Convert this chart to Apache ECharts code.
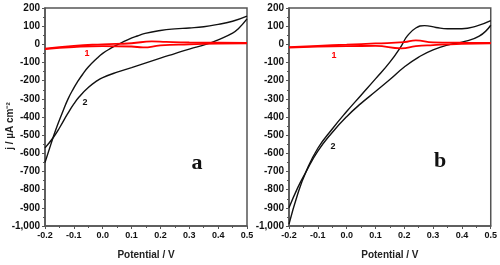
<!DOCTYPE html>
<html>
<head>
<meta charset="utf-8">
<script src="https://cdn.jsdelivr.net/npm/echarts@6/dist/echarts.min.js"></script>
<style>
html, body { margin: 0; padding: 0; background: #fff; }
#chart { width: 500px; height: 265px; }
</style>
</head>
<body>
<div id="chart"></div>
<script>
// panel a - curve 1 (red) forward / backward branch
var a1Fwd = [[-0.2, -24], [-0.1, -8], [0.0, 0], [0.1, 6], [0.17, 16], [0.22, 13], [0.3, 10], [0.4, 9], [0.5, 8]];
var a1Bwd = [[0.5, 6], [0.4, 4], [0.3, 0], [0.2, -6], [0.14, -17], [0.1, -12], [0.0, -10], [-0.1, -15], [-0.2, -26]];
// panel a - curve 2 (black)
var a2Fwd = [[-0.2, -650], [-0.18, -552], [-0.163, -472], [-0.14, -377], [-0.12, -300], [-0.1, -240],
    [-0.088, -208], [-0.07, -166], [-0.05, -125], [-0.02, -77], [0.0, -50], [0.03, -20], [0.05, -3],
    [0.088, 26], [0.12, 46], [0.147, 60], [0.2, 76], [0.25, 85], [0.3, 90], [0.35, 97], [0.4, 110],
    [0.45, 127], [0.5, 155]];
var a2Bwd = [[0.5, 140], [0.47, 86], [0.45, 62], [0.4, 25], [0.36, 1], [0.3, -26], [0.25, -51], [0.2, -76],
    [0.1, -128], [0.05, -153], [0.0, -183], [-0.019, -200], [-0.05, -238], [-0.082, -290], [-0.1, -328],
    [-0.123, -386], [-0.148, -455], [-0.17, -510], [-0.2, -570]];
// panel b - curve 1 (red)
var b1Fwd = [[-0.2, -15], [-0.1, -8], [0.0, -2], [0.1, 5], [0.2, 12], [0.24, 22], [0.3, 11], [0.4, 9], [0.5, 8]];
var b1Bwd = [[0.5, 6], [0.4, 3], [0.3, -4], [0.24, -10], [0.19, -22], [0.1, -9], [0.0, -10], [-0.1, -13], [-0.2, -18]];
// panel b - curve 2 (black)
var b2Fwd = [[-0.2, -990], [-0.17, -825], [-0.142, -705], [-0.1, -572], [-0.05, -466], [0.0, -370],
    [0.05, -280], [0.1, -190], [0.15, -98], [0.19, -8], [0.21, 45], [0.24, 90], [0.27, 103], [0.31, 93],
    [0.35, 86], [0.4, 86], [0.45, 100], [0.5, 130]];
var b2Bwd = [[0.5, 105], [0.46, 45], [0.4, 12], [0.36, 0], [0.3, -30], [0.25, -70], [0.2, -125], [0.15, -194],
    [0.1, -260], [0.05, -325], [0.0, -398], [-0.05, -485], [-0.1, -588], [-0.142, -705], [-0.17, -790], [-0.2, -900]];

var xTicks = { min: -0.2, max: 0.5, interval: 0.1 };
var yTicks = { min: -1000, max: 200, interval: 100 };

var axisCol = '#555';
var fontFam = 'Liberation Sans, Arial';

function makeX(idx) {
    return {
        gridIndex: idx,
        type: 'value',
        min: xTicks.min,
        max: xTicks.max,
        interval: xTicks.interval,
        name: 'Potential / V',
        nameLocation: 'middle',
        nameGap: 24,
        nameTextStyle: { color: '#222', fontSize: 10, fontWeight: 'bold', fontFamily: fontFam },
        axisLine: { onZero: false, lineStyle: { color: axisCol, width: 1.5 } },
        axisTick: { inside: false, length: 3, lineStyle: { color: axisCol } },
        minorTick: { show: true, splitNumber: 2, length: 2, lineStyle: { color: axisCol } },
        splitLine: { show: false },
        axisLabel: {
            margin: 5,
            color: '#111',
            fontSize: 9,
            fontWeight: 'bold',
            fontFamily: fontFam,
            formatter: function(v) { return v.toFixed(1); }
        }
    };
}

function makeY(idx) {
    return {
        gridIndex: idx,
        type: 'value',
        min: yTicks.min,
        max: yTicks.max,
        interval: yTicks.interval,
        axisLine: { onZero: false, lineStyle: { color: axisCol, width: 1.5 } },
        axisTick: { inside: false, length: 3, lineStyle: { color: axisCol } },
        minorTick: { show: true, splitNumber: 2, length: 2, lineStyle: { color: axisCol } },
        splitLine: { show: false },
        axisLabel: { margin: 5, color: '#111', fontSize: 10, fontWeight: 'bold', fontFamily: fontFam }
    };
}

function curve(idx, data, color, width) {
    return {
        type: 'line',
        xAxisIndex: idx,
        yAxisIndex: idx,
        data: data,
        smooth: 0.5,
        symbol: 'none',
        silent: true,
        lineStyle: { color: color, width: width },
        z: color === '#ff0000' ? 3 : 2
    };
}

var chart = echarts.init(document.getElementById('chart'));
chart.setOption({
    animation: false,
    grid: [
        { left: 45, top: 8, width: 202, height: 222, show: true, borderColor: axisCol, borderWidth: 1.5 },
        { left: 289, top: 8, width: 202, height: 222, show: true, borderColor: axisCol, borderWidth: 1.5 }
    ],
    xAxis: [makeX(0), makeX(1)],
    yAxis: [makeY(0), makeY(1)],
    series: [
        curve(0, a2Fwd, '#111', 1.4),
        curve(0, a2Bwd, '#111', 1.4),
        curve(0, a1Fwd, '#ff0000', 1.8),
        curve(0, a1Bwd, '#ff0000', 1.8),
        curve(1, b2Fwd, '#111', 1.4),
        curve(1, b2Bwd, '#111', 1.4),
        curve(1, b1Fwd, '#ff0000', 1.8),
        curve(1, b1Bwd, '#ff0000', 1.8)
    ],
    graphic: [
        { type: 'text', x: 10, y: 126, rotation: Math.PI / 2,
          style: { text: 'j / µA cm⁻²', fill: '#222', font: 'bold 10px Liberation Sans, Arial', align: 'center', verticalAlign: 'middle' } },
        { type: 'text', x: 87, y: 54, style: { text: '1', fill: '#ff0000', font: 'bold 9px Liberation Sans, Arial', align: 'center', verticalAlign: 'middle' } },
        { type: 'text', x: 85, y: 103, style: { text: '2', fill: '#111', font: 'bold 9px Liberation Sans, Arial', align: 'center', verticalAlign: 'middle' } },
        { type: 'text', x: 334, y: 56, style: { text: '1', fill: '#ff0000', font: 'bold 9px Liberation Sans, Arial', align: 'center', verticalAlign: 'middle' } },
        { type: 'text', x: 333, y: 147, style: { text: '2', fill: '#111', font: 'bold 9px Liberation Sans, Arial', align: 'center', verticalAlign: 'middle' } },
        { type: 'text', x: 197, y: 163, style: { text: 'a', fill: '#111', font: 'bold 22px Liberation Serif, Times New Roman', align: 'center', verticalAlign: 'middle' } },
        { type: 'text', x: 440, y: 161, style: { text: 'b', fill: '#111', font: 'bold 22px Liberation Serif, Times New Roman', align: 'center', verticalAlign: 'middle' } }
    ]
});
</script>
</body>
</html>
